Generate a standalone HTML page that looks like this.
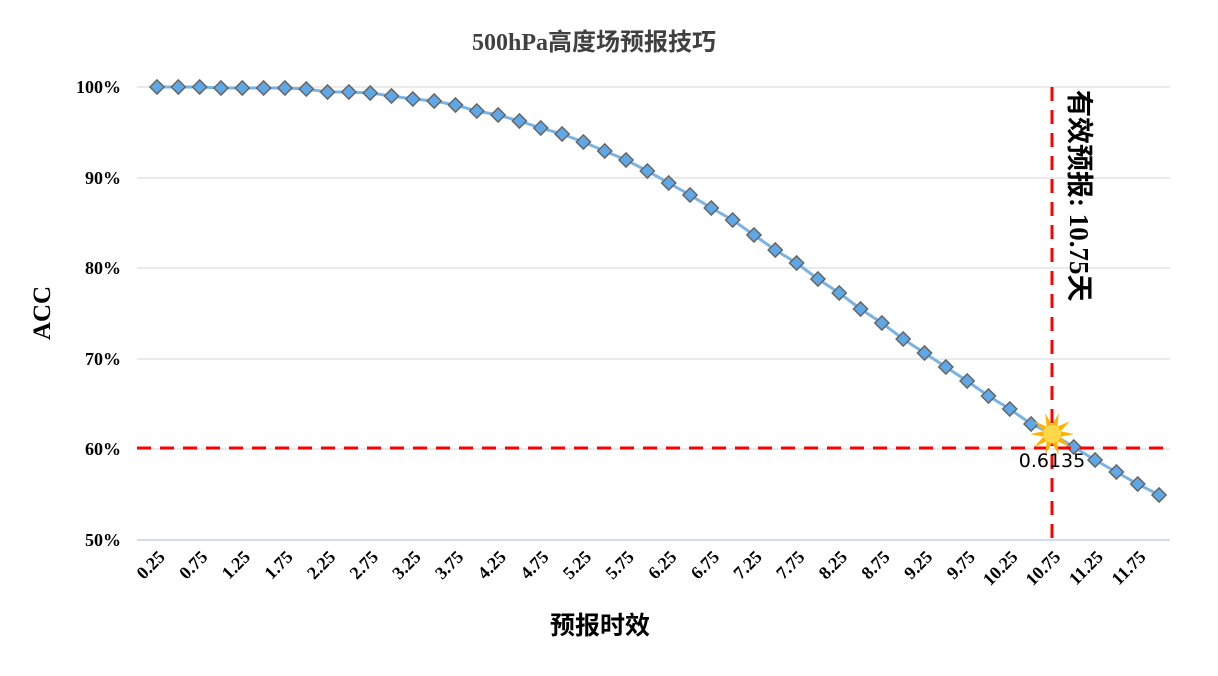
<!DOCTYPE html>
<html><head><meta charset="utf-8"><style>
body{margin:0;background:#fff;width:1218px;height:671px;overflow:hidden}
</style></head><body>
<svg id="s" width="1218" height="671" xmlns="http://www.w3.org/2000/svg" font-family="'Liberation Serif','Noto Serif CJK SC',serif">
<text x="594" y="50" text-anchor="middle" font-size="24" font-weight="bold" fill="#404040" font-family="'Liberation Serif','Noto Sans CJK SC',serif">500hPa高度场预报技巧</text>
<text x="50" y="313" text-anchor="middle" font-size="25" font-weight="bold" transform="rotate(-90 50 313)">ACC</text>
<text x="600" y="634" text-anchor="middle" font-size="25" font-weight="bold" font-family="'Liberation Sans','Noto Sans CJK SC',sans-serif">预报时效</text>
<g id="g"></g>
</svg>
<script>
const g=document.getElementById('g');let h='';
const ys=[87,87,87,88,88,88,88,89,92,92,93,96,99,101,105,111,115,121,128,134,142,151,160,171,183,195,208,220,235,250,263,279,293,309,323,339,353,367,381,396,409,424,434,447,460,472,484,495];
const X=i=>157+i*21.32;
[[87,'100%'],[178,'90%'],[268,'80%'],[359,'70%'],[449,'60%'],[540,'50%']].forEach(([y,t])=>{
 h+=`<line x1="137" x2="1170" y1="${y}" y2="${y}" stroke="${y==540?'#c5d0e6':'#e3e3e3'}" stroke-width="1.5"/>`;
 h+=`<text x="121" y="${y+6}" text-anchor="end" font-size="18" font-weight="bold">${t}</text>`;});
for(let i=0;i<48;i+=2){const x=X(i)+9,y=558;h+=`<text x="${x}" y="${y}" text-anchor="end" font-size="18" font-weight="bold" transform="rotate(-45 ${x} ${y})">${(0.25*(i+1)).toFixed(2)}</text>`;}
h+=`<polyline fill="none" stroke="#7ab4e6" stroke-width="3" points="${ys.map((y,i)=>X(i)+','+y).join(' ')}"/>`;
ys.forEach((y,i)=>{if(i==42)return;const x=X(i);h+=`<rect x="${x-5}" y="${y-5}" width="10" height="10" fill="#5fa8e8" stroke="#666" stroke-width="1.5" transform="rotate(45 ${x} ${y})"/>`;});
h+=`<line x1="137" x2="1170" y1="448" y2="448" stroke="#f00" stroke-width="3" stroke-dasharray="14,9"/>`;
h+=`<line x1="1052" x2="1052" y1="87" y2="540" stroke="#f00" stroke-width="3" stroke-dasharray="14,9"/>`;
let p='';for(let k=0;k<20;k++){const a=k*Math.PI/10,r=k%2?9:22;p+=(1052+r*Math.cos(a))+','+(434+r*Math.sin(a))+' ';}
h+=`<polygon points="${p}" fill="#ffb300"/><circle cx="1052" cy="434" r="9" fill="#ffd84a"/>`;
h+=`<text x="1052" y="467" text-anchor="middle" font-size="19" font-family="'DejaVu Sans',sans-serif">0.6135</text>`;
h+=`<text x="1070" y="90" font-size="27" font-weight="bold" transform="rotate(90 1070 90)" font-family="'Liberation Serif','Noto Sans CJK SC',serif">有效预报: 10.75天</text>`;
g.innerHTML=h;
</script>
</body></html>
